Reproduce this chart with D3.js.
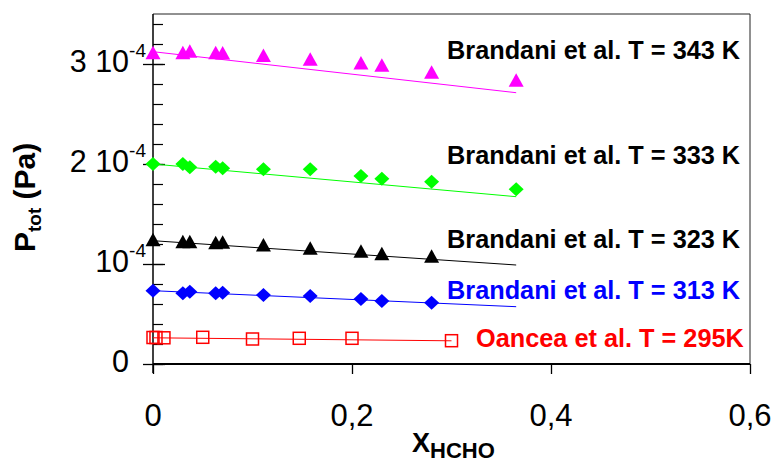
<!DOCTYPE html>
<html>
<head>
<meta charset="utf-8">
<script src="https://cdn.jsdelivr.net/npm/d3@7"></script>
<style>
  body { margin: 0; background: #fff; }
  text { font-family: "Liberation Sans", Arial, sans-serif; }
</style>
</head>
<body>
<div id="chart"></div>
<script>
// data (pressure in Pa)
var xBrandani = [0, 0.03, 0.037, 0.063, 0.07, 0.111, 0.158, 0.209, 0.23, 0.28, 0.365];
var p343 = [3.113e-4, 3.113e-4, 3.128e-4, 3.113e-4, 3.11e-4, 3.085e-4, 3.048e-4, 3.01e-4, 2.987e-4, 2.918e-4, 2.837e-4];
var p333 = [2.0e-4, 2.0e-4, 1.967e-4, 1.973e-4, 1.957e-4, 1.947e-4, 1.947e-4, 1.88e-4, 1.853e-4, 1.823e-4, 1.747e-4];
var p323 = [1.243e-4, 1.223e-4, 1.223e-4, 1.213e-4, 1.217e-4, 1.19e-4, 1.157e-4, 1.128e-4, 1.103e-4, 1.077e-4];
var p313 = [0.733e-4, 0.707e-4, 0.723e-4, 0.707e-4, 0.713e-4, 0.69e-4, 0.68e-4, 0.65e-4, 0.63e-4, 0.613e-4];
var xOancea = [0, 0.003, 0.011, 0.05, 0.1, 0.147, 0.2, 0.3];
var p295 = [0.265e-4, 0.265e-4, 0.262e-4, 0.267e-4, 0.25e-4, 0.257e-4, 0.257e-4, 0.233e-4];

// fitted lines [x, p] end points
var fit343 = [[0, 3.123e-4], [0.365, 2.713e-4]];
var fit333 = [[0, 2.0e-4], [0.365, 1.673e-4]];
var fit323 = [[0, 1.233e-4], [0.365, 0.99e-4]];
var fit313 = [[0, 0.733e-4], [0.365, 0.573e-4]];
var fit295 = [[0, 0.262e-4], [0.3, 0.232e-4]];

var seriesLabels = ["Brandani et al. T = 343 K", "Brandani et al. T = 333 K",
  "Brandani et al. T = 323 K", "Brandani et al. T = 313 K", "Oancea et al. T = 295K"];

var xTicks = [0, 0.2, 0.4, 0.6];
var xTickLabels = ["0", "0,2", "0,4", "0,6"];
var yTicks = [0, 1e-4, 2e-4, 3e-4];
var yTickMain = ["0", "10", "2 10", "3 10"];
var yTickSup = ["", "-4", "-4", "-4"];

var W = 776, H = 461;
var plotL = 153, plotR = 750, plotT = 14, plotB = 364;

var svg = d3.select("#chart").append("svg")
  .attr("width", W)
  .attr("height", H);

var x = d3.scaleLinear().domain([0, 0.6]).range([plotL, plotR]);
var y = d3.scaleLinear().domain([0, 3.5e-4]).range([plotB, plotT]);

// frame
svg.append("line").attr("x1", plotL).attr("x2", plotR).attr("y1", plotT).attr("y2", plotT)
  .attr("stroke", "#222").attr("stroke-width", 1);
svg.append("line").attr("x1", plotR).attr("x2", plotR).attr("y1", plotT).attr("y2", plotB)
  .attr("stroke", "#222").attr("stroke-width", 1);

// x axis
svg.append("g")
  .attr("transform", "translate(0," + plotB + ")")
  .call(d3.axisBottom(x).tickValues(xTicks).tickSize(10).tickFormat(""))
  .call(function (g) {
    g.select(".domain").attr("stroke-width", 2).attr("d", "M" + plotL + ",0H" + plotR);
    g.selectAll(".tick line").attr("stroke-width", 1.3);
  });

svg.selectAll(".xlab")
  .data(xTicks)
  .enter()
  .append("text")
  .attr("class", "xlab")
  .attr("x", function (d) { return x(d); })
  .attr("y", 426)
  .attr("text-anchor", "middle")
  .style("font-size", "31px")
  .text(function (d, i) { return xTickLabels[i]; });

// y axis: minor ticks inside, major ticks crossing
var minor = d3.range(0, 3.5e-4 + 1e-9, 0.2e-4);
svg.append("g")
  .attr("transform", "translate(" + plotL + ",0)")
  .call(d3.axisRight(y).tickValues(minor).tickSize(10).tickFormat(""))
  .call(function (g) {
    g.select(".domain").attr("stroke-width", 1.5).attr("d", "M0," + plotT + "V" + (plotB + 9));
    g.selectAll(".tick line").attr("stroke-width", 1.2);
  });
svg.append("g")
  .attr("transform", "translate(" + (plotL - 10) + ",0)")
  .call(d3.axisRight(y).tickValues(yTicks).tickSize(22).tickFormat(""))
  .call(function (g) {
    g.select(".domain").remove();
    g.selectAll(".tick line").attr("stroke-width", 1.3);
  });

var ylab = svg.selectAll(".ylab")
  .data(yTicks)
  .enter()
  .append("text")
  .attr("class", "ylab")
  .attr("x", function (d, i) { return yTickSup[i] ? 146 : 129; })
  .attr("y", function (d) { return y(d) + 8; })
  .attr("text-anchor", "end")
  .style("font-size", "30.5px");
ylab.append("tspan").text(function (d, i) { return yTickMain[i]; });
ylab.append("tspan")
  .attr("dy", -15)
  .style("font-size", "19px")
  .text(function (d, i) { return yTickSup[i]; });

// axis titles
var yt = svg.append("text")
  .attr("transform", "translate(35,252) rotate(-90)")
  .style("font-size", "30px")
  .style("font-weight", "bold");
yt.append("tspan").text("P");
yt.append("tspan").attr("dy", 6).style("font-size", "19px").text("tot");
yt.append("tspan").attr("dy", -6).text(" (Pa)");

var xt = svg.append("text")
  .attr("x", 412)
  .attr("y", 452)
  .style("font-size", "27px")
  .style("font-weight", "bold");
xt.append("tspan").text("X");
xt.append("tspan").attr("dy", 6).style("font-size", "22px").text("HCHO");

// markers
function triangle(cx, cy) {
  return "M" + cx + "," + (cy - 7) + "L" + (cx + 7.5) + "," + (cy + 6.5) + "L" + (cx - 7.5) + "," + (cy + 6.5) + "Z";
}
function diamond(cx, cy) {
  return "M" + cx + "," + (cy - 7) + "L" + (cx + 7.5) + "," + cy + "L" + cx + "," + (cy + 7) + "L" + (cx - 7.5) + "," + cy + "Z";
}

var series = [
  { xs: xBrandani, ys: p343, fit: fit343, color: "#ff00ff", shape: "tri" },
  { xs: xBrandani, ys: p333, fit: fit333, color: "#00ff00", shape: "dia" },
  { xs: xBrandani, ys: p323, fit: fit323, color: "#000000", shape: "tri" },
  { xs: xBrandani, ys: p313, fit: fit313, color: "#0000ff", shape: "dia" },
  { xs: xOancea, ys: p295, fit: fit295, color: "#ff0000", shape: "sq" }
];

var line = d3.line()
  .x(function (d) { return x(d[0]); })
  .y(function (d) { return y(d[1]); });

series.forEach(function (s) {
  svg.append("path")
    .attr("d", line(s.fit))
    .attr("fill", "none")
    .attr("stroke", s.color)
    .attr("stroke-width", 1);

  var pts = s.ys.map(function (v, i) { return [s.xs[i], v]; });
  if (s.shape == "sq") {
    svg.selectAll(null)
      .data(pts)
      .enter()
      .append("rect")
      .attr("x", function (d) { return x(d[0]) - 6; })
      .attr("y", function (d) { return y(d[1]) - 6; })
      .attr("width", 12)
      .attr("height", 12)
      .attr("fill", "none")
      .attr("stroke", s.color)
      .attr("stroke-width", 1.5);
  } else {
    svg.selectAll(null)
      .data(pts)
      .enter()
      .append("path")
      .attr("d", function (d) {
        return s.shape == "tri" ? triangle(x(d[0]), y(d[1])) : diamond(x(d[0]), y(d[1]));
      })
      .attr("fill", s.color);
  }
});

// series labels
var labelPos = [[0.2955, 3.047e-4], [0.2955, 2.0e-4], [0.2955, 1.163e-4], [0.2955, 0.647e-4], [0.3246, 0.167e-4]];
var labelColor = ["#000", "#000", "#000", "#0000ff", "#ff0000"];
svg.selectAll(".slab")
  .data(seriesLabels)
  .enter()
  .append("text")
  .attr("class", "slab")
  .attr("x", function (d, i) { return x(labelPos[i][0]); })
  .attr("y", function (d, i) { return y(labelPos[i][1]); })
  .attr("fill", function (d, i) { return labelColor[i]; })
  .style("font-size", "25.3px")
  .style("font-weight", "bold")
  .text(function (d) { return d; });
</script>
</body>
</html>
